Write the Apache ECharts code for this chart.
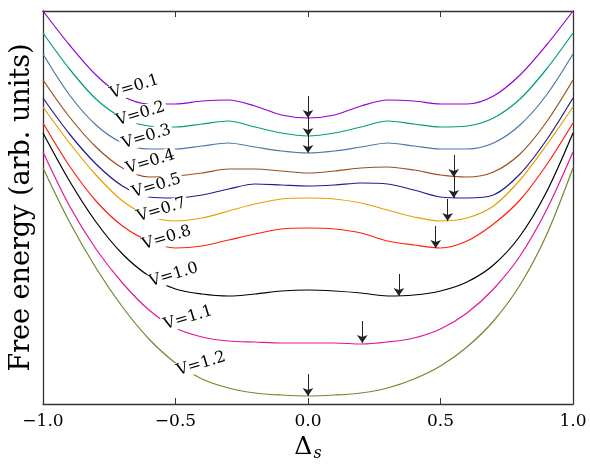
<!DOCTYPE html>
<html>
<head>
<meta charset="utf-8">
<script src="https://cdn.jsdelivr.net/npm/echarts@6/dist/echarts.min.js"></script>
<style>
  html, body { margin: 0; padding: 0; background: #fff; }
  #chart { width: 590px; height: 471px; }
</style>
</head>
<body>
<div id="chart"></div>
<script>
// order parameter grid
const ds = [-1.0, -0.9, -0.8, -0.7, -0.6, -0.5, -0.4, -0.3, -0.2, -0.1, 0.0,
            0.1, 0.2, 0.3, 0.4, 0.5, 0.6, 0.7, 0.8, 0.9, 1.0];

// free energy curves (arb. units)
const fV01 = [393, 359, 329, 308, 300, 300, 303, 304, 298, 289, 286, 289, 298, 304, 303, 300, 300, 308, 329, 359, 393];
const fV02 = [371, 335, 305, 286, 278, 277, 280, 283, 277, 271, 268, 271, 277, 283, 280, 277, 278, 286, 305, 335, 371];
const fV03 = [350, 309, 279, 261, 255, 255, 258, 261, 257, 253, 251, 253, 257, 261, 258, 255, 255, 261, 279, 309, 350];
const fV04 = [324, 287, 257, 236, 227, 228, 231, 235, 235, 233, 231, 233, 236, 237, 234, 229, 227, 232, 250, 282, 324];
const fV05 = [306, 270, 240, 218, 207, 206, 209, 215, 220, 219, 218, 219, 221, 220, 214, 207, 206, 209, 230, 264, 306];
const fV07 = [297, 261, 229, 203, 188, 183, 186, 193, 200, 205, 206, 205, 201, 194, 187, 183, 186, 198, 224, 259, 297];
const fV08 = [281, 238, 203, 178, 163, 156, 158, 164, 170, 175, 176, 175, 171, 163, 159, 156, 163, 180, 204, 239, 281];
const fV10 = [271, 223, 182, 150, 128, 115, 110, 108, 110, 113, 114, 113, 111, 108, 109, 113, 122, 139, 168, 212, 271];
const fV11 = [252, 198, 155, 121, 94, 76, 67, 63, 62, 61, 61, 61, 60, 62, 66, 75, 91, 115, 148, 194, 252];
const fV12 = [236, 182, 136, 97, 65, 41, 25, 16, 11, 9, 8, 9, 11, 16, 25, 38, 57, 83, 119, 169, 236];

const names = ['V=0.1', 'V=0.2', 'V=0.3', 'V=0.4', 'V=0.5', 'V=0.7', 'V=0.8', 'V=1.0', 'V=1.1', 'V=1.2'];
const curves = [fV01, fV02, fV03, fV04, fV05, fV07, fV08, fV10, fV11, fV12];

// global minimum marked by the arrows
const minDs = [0, 0, 0, 0.55, 0.55, 0.527, 0.482, 0.343, 0.205, 0];
const minF = [286, 268, 251, 227, 206, 183, 156, 108, 61, 8];

// where each curve's label sits
const labelDs = [-0.655, -0.632, -0.610, -0.595, -0.572, -0.553, -0.533, -0.507, -0.452, -0.403];
const labelF = [317, 290, 267, 242, 218, 194, 166, 129, 86, 40];

const colors = ['#9400d3', '#009e73', '#4a77a8', '#9c4e1a', '#1f1f8f',
                '#e69f00', '#ff2010', '#000000', '#e0179a', '#6f8a2e'];

const serif = '"DejaVu Serif", "Liberation Serif", serif';
const arrowLen = 22;

const chart = echarts.init(document.getElementById('chart'));

const series = curves.map((vals, i) => ({
  name: names[i],
  type: 'line',
  data: ds.map((d, k) => [d, vals[k]]),
  smooth: 0.3,
  showSymbol: false,
  silent: true,
  lineStyle: { color: colors[i], width: 1.2 },
  markLine: {
    silent: true,
    symbol: ['none', 'arrow'],
    symbolSize: 8,
    label: { show: false },
    lineStyle: { color: '#222', width: 1, type: 'solid' },
    data: [[{ coord: [minDs[i], minF[i] + arrowLen] }, { coord: [minDs[i], minF[i]] }]]
  },
  markPoint: {
    silent: true,
    symbol: 'circle',
    symbolSize: 0,
    label: {
      show: true,
      position: 'inside',
      formatter: names[i],
      rotate: 17,
      fontFamily: serif,
      fontSize: 16,
      color: '#000',
      backgroundColor: '#fff',
      padding: [0, 2]
    },
    data: [{ coord: [labelDs[i], labelF[i]] }]
  }
}));

const fmt = v => (v < 0 ? '\u2212' : '') + Math.abs(v).toFixed(1);

chart.setOption({
  animation: false,
  grid: { left: 40, right: 17, top: 11, bottom: 67 },
  xAxis: [{
    type: 'value', min: -1, max: 1, interval: 0.5, position: 'bottom',
    axisLine: { onZero: false, lineStyle: { color: '#333', width: 1.3 } },
    axisTick: { inside: true, length: 6, lineStyle: { color: '#333' } },
    axisLabel: { formatter: fmt, fontFamily: serif, fontSize: 17, color: '#000', margin: 9 },
    splitLine: { show: false },
    name: '{d|\u0394}{s|s}',
    nameLocation: 'middle',
    nameGap: 25,
    nameTextStyle: {
      rich: {
        d: { fontFamily: serif, fontSize: 25, color: '#000' },
        s: { fontFamily: serif, fontSize: 16, fontStyle: 'italic', color: '#000', verticalAlign: 'bottom', padding: [12, 0, 0, 1] }
      }
    }
  }, {
    type: 'value', min: -1, max: 1, interval: 0.5, position: 'top',
    axisLine: { onZero: false, lineStyle: { color: '#333', width: 1.3 } },
    axisTick: { inside: true, length: 6, lineStyle: { color: '#333' } },
    axisLabel: { show: false },
    splitLine: { show: false }
  }],
  yAxis: [{
    type: 'value', min: 0, max: 393, position: 'left',
    axisLine: { show: true, onZero: false, lineStyle: { color: '#333', width: 1.3 } },
    axisTick: { show: false },
    axisLabel: { show: false },
    splitLine: { show: false },
    name: 'Free energy (arb. units)',
    nameLocation: 'middle',
    nameGap: 8,
    nameTextStyle: { fontFamily: serif, fontSize: 27, color: '#000' }
  }, {
    type: 'value', min: 0, max: 393, position: 'right',
    axisLine: { show: true, onZero: false, lineStyle: { color: '#333', width: 1.3 } },
    axisTick: { show: false },
    axisLabel: { show: false },
    splitLine: { show: false }
  }],
  series: series
});
</script>
</body>
</html>
